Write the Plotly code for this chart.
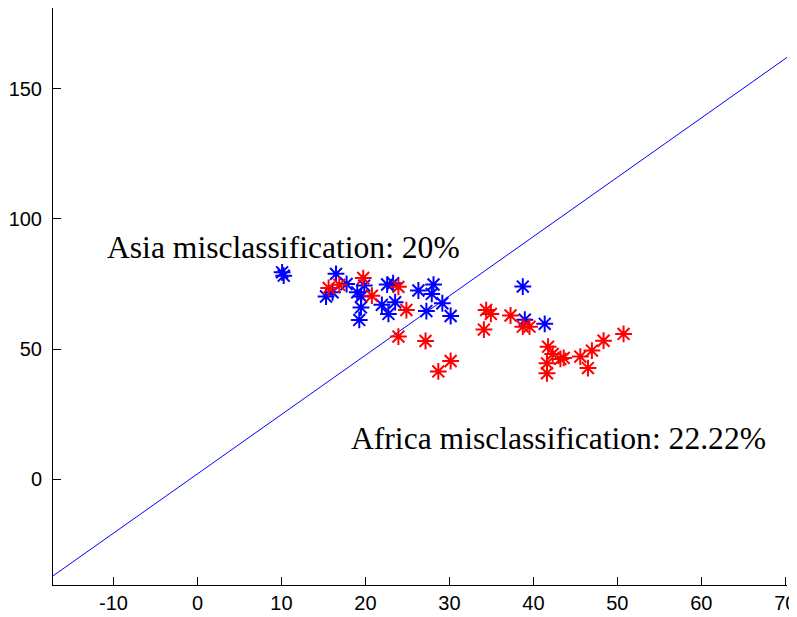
import plotly.graph_objects as go

# Asia samples (blue)
asia_x = [10.08, 10.27, 16.50, 15.31, 16.09, 17.76, 19.86, 19.03, 19.50, 19.47,
          19.27, 21.96, 22.59, 23.30, 23.54, 22.74, 26.31, 28.11, 27.90, 27.26,
          29.16, 30.15, 38.74, 38.98, 41.35]
asia_y = [79.5, 78.2, 78.9, 70.2, 71.8, 75.0, 74.4, 71.8, 70.2, 66.0,
          61.2, 67.0, 74.8, 75.3, 68.0, 63.5, 72.5, 74.8, 71.2, 64.6,
          67.6, 62.7, 74.0, 61.3, 59.7]

# Africa samples (red)
africa_x = [15.62, 16.89, 19.74, 20.77, 23.93, 24.88, 23.93, 27.16, 30.15, 28.68,
            34.38, 34.94, 34.11, 37.28, 38.74, 39.54, 41.75, 42.30, 41.62, 41.62,
            43.22, 43.61, 45.59, 46.97, 46.50, 48.36, 50.74]
africa_y = [73.5, 74.7, 77.3, 70.5, 73.9, 65.0, 54.8, 53.1, 45.4, 41.4,
            65.0, 63.5, 57.5, 62.9, 58.6, 58.6, 50.9, 48.1, 44.5, 40.7,
            46.2, 46.6, 47.1, 49.4, 42.7, 53.2, 55.8]

# Decision boundary
boundary_x = [-17.2, 70.2]
boundary_y = [-37.2, 162.1]

x_ticks = [-10, 0, 10, 20, 30, 40, 50, 60, 70]
x_tick_text = ["-10", "0", "10", "20", "30", "40", "50", "60", "70"]
y_ticks = [0, 50, 100, 150]
y_tick_text = ["0", "50", "100", "150"]
x_range = [-17.2, 70.2]
y_range = [-40.7, 181.1]

asia_label = "Asia misclassification: 20%"
africa_label = "Africa misclassification: 22.22%"

fig = go.Figure()
fig.add_trace(go.Scatter(x=boundary_x, y=boundary_y, mode="lines",
                         line=dict(color="#0000FF", width=1), hoverinfo="skip"))
fig.add_trace(go.Scatter(x=asia_x, y=asia_y, mode="markers",
                         marker=dict(symbol="asterisk-open", size=14, color="#0000FF",
                                     line=dict(color="#0000FF", width=2))))
fig.add_trace(go.Scatter(x=africa_x, y=africa_y, mode="markers",
                         marker=dict(symbol="asterisk-open", size=14, color="#FF0000",
                                     line=dict(color="#FF0000", width=2))))

label_font = dict(family="Liberation Serif, Times New Roman, serif", size=31.6, color="black")
fig.add_annotation(x=-11.0, y=89.2, text=asia_label, showarrow=False,
                   xanchor="left", yanchor="middle", font=label_font)
fig.add_annotation(x=18.0, y=15.6, text=africa_label, showarrow=False,
                   xanchor="left", yanchor="middle", font=label_font)

axis_font = dict(family="Liberation Sans, Arial, sans-serif", size=20, color="black")
# page body adds an 8px offset; size/margins compensate so the axes land where the reference has them
fig.update_layout(
    width=789, height=609,
    margin=dict(l=45, r=10, t=0, b=32),
    paper_bgcolor="white", plot_bgcolor="white",
    showlegend=False,
    xaxis=dict(range=x_range, tickvals=x_ticks, ticktext=x_tick_text, ticks="inside", ticklen=8,
               tickcolor="black", showline=True, linecolor="black", linewidth=1,
               showgrid=False, zeroline=False, tickfont=axis_font,
               ticklabelstandoff=0, automargin=False),
    yaxis=dict(range=y_range, tickvals=y_ticks, ticktext=y_tick_text, ticks="inside", ticklen=8,
               tickcolor="black", showline=True, linecolor="black", linewidth=1,
               showgrid=False, zeroline=False, tickfont=axis_font,
               ticklabelstandoff=6, automargin=False),
)

fig.write_html("out.html")
